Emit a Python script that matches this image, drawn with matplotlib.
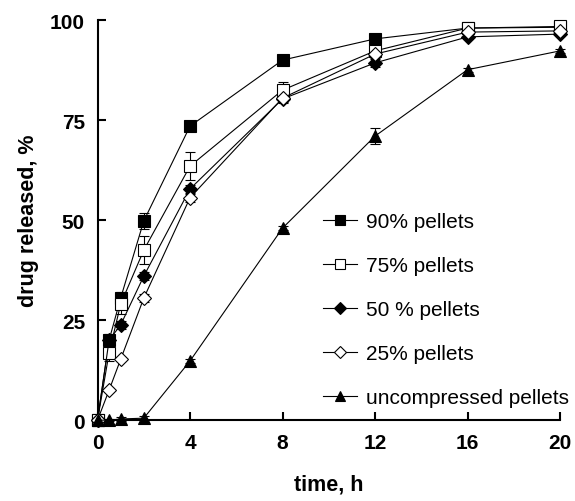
import matplotlib
matplotlib.use("Agg")
import matplotlib.pyplot as plt

plt.rcParams['font.family'] = ['Liberation Sans', 'DejaVu Sans']

# время отбора проб, ч
time_h = [0, 0.5, 1, 2, 4, 8, 12, 16, 20]

p90 = [0, 20.0, 30.5, 49.8, 73.5, 90.0, 95.3, 98.0, 98.2]
p75 = [0, 16.8, 29.0, 42.5, 63.5, 82.5, 92.3, 98.0, 98.4]
p50 = [0, 20.0, 23.8, 36.0, 57.8, 80.3, 89.3, 95.8, 96.5]
p25 = [0, 7.5, 15.2, 30.5, 55.6, 80.5, 91.5, 97.0, 97.3]
unc = [0, 0.0, 0.3, 0.5, 14.8, 48.0, 71.0, 87.6, 92.3]

p90_err = [0, 1.0, 1.5, 2.0, 0.5, 0.5, 0.5, 0.5, 0.5]
p75_err = [0, 2.0, 2.5, 3.5, 3.5, 2.0, 1.5, 0.5, 0.5]
p50_err = [0, 1.5, 1.0, 1.0, 1.0, 1.0, 1.0, 0.5, 0.5]
p25_err = [0, 0.5, 0.5, 1.0, 1.0, 1.0, 1.0, 0.5, 0.5]
unc_err = [0, 0.3, 0.5, 0.5, 0.5, 0.5, 2.0, 0.5, 0.5]

labels = ['90% pellets', '75% pellets', '50 % pellets', '25% pellets',
          'uncompressed pellets']
series = [p90, p75, p50, p25, unc]
errors = [p90_err, p75_err, p50_err, p25_err, unc_err]
markers = ['s', 's', 'D', 'D', '^']
faces = ['black', 'white', 'black', 'white', 'black']
msizes = [8, 8, 7, 7, 8]

fig = plt.figure(figsize=(5.75, 5.02), dpi=100)
ax = fig.add_axes([0.1696, 0.161, 0.8044, 0.797])

for ys, err, m, fc, ms, lab in zip(series, errors, markers, faces, msizes, labels):
    ax.errorbar(time_h, ys, yerr=err, color='black', lw=0.8, marker=m,
                mfc=fc, mec='black', mew=0.8, ms=ms, capsize=3.5,
                elinewidth=0.8, capthick=0.8, label=lab, clip_on=False,
                zorder=3)

ax.set_xlim(0, 20)
ax.set_ylim(0, 100)
ax.set_xticks([0, 4, 8, 12, 16, 20])
ax.set_yticks([0, 25, 50, 75, 100])
ax.tick_params(direction='in', length=6, width=1.5, labelsize=15, pad=9)
for t in ax.get_xticklabels() + ax.get_yticklabels():
    t.set_fontweight('bold')
for s in ['top', 'right']:
    ax.spines[s].set_visible(False)
for s in ['left', 'bottom']:
    ax.spines[s].set_linewidth(1.5)

ax.set_xlabel('time, h', fontsize=15.5, fontweight='bold', labelpad=16)
ax.set_ylabel('drug released, %', fontsize=15.5, fontweight='bold', labelpad=8)

handles, labs = ax.get_legend_handles_labels()
handles = [h[0] for h in handles]
leg = ax.legend(handles, labs, loc='lower right', bbox_to_anchor=(1.06, -0.015),
                frameon=False, fontsize=15, handlelength=1.6, handletextpad=0.45,
                labelspacing=1.2, markerscale=0.85)

fig.savefig('out.png', dpi=100)
